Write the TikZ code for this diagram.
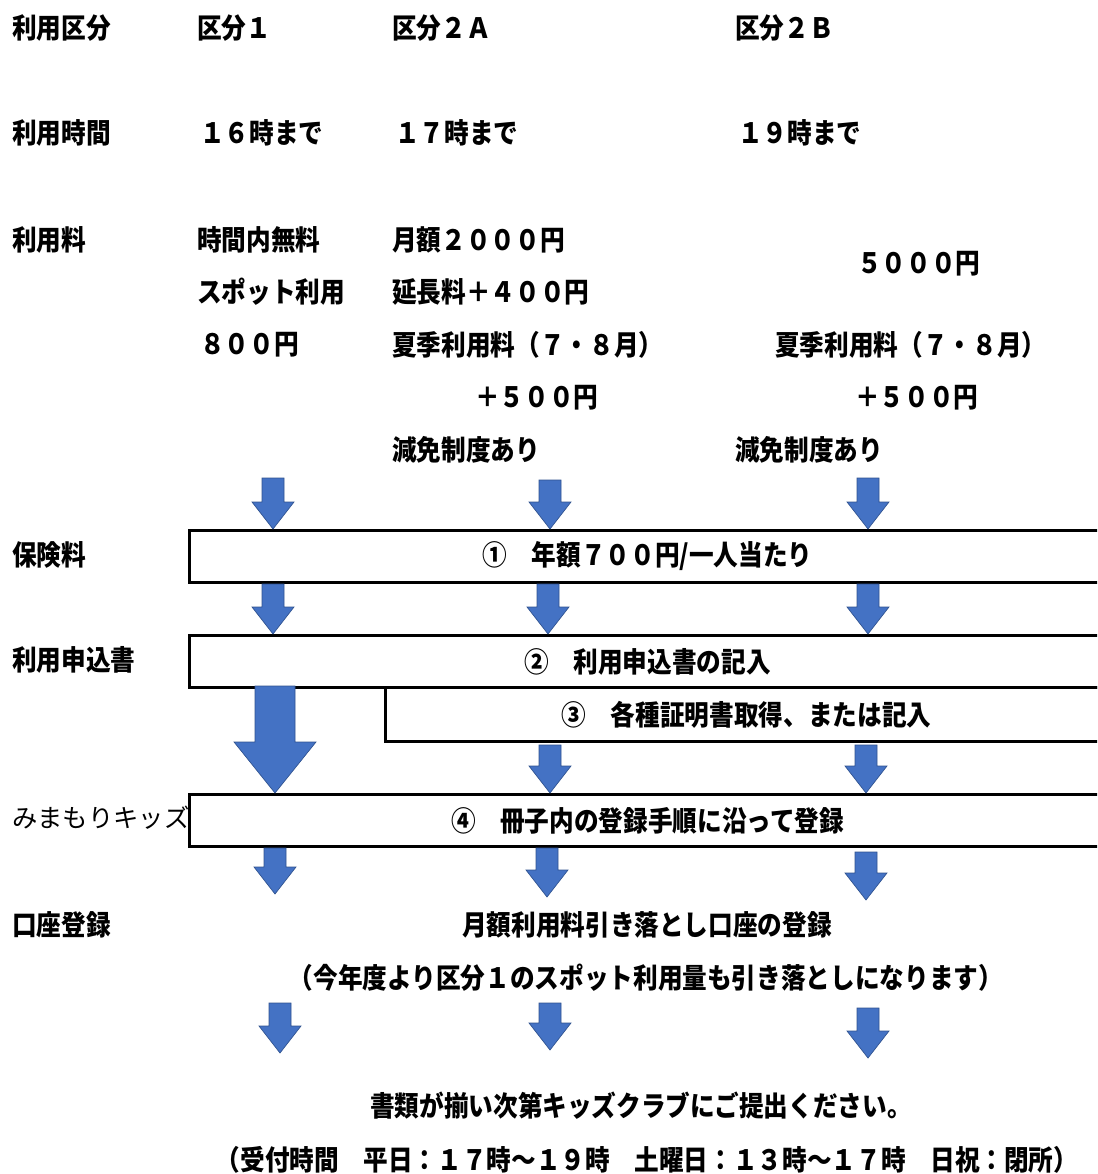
\documentclass[tikz,border=0pt]{standalone}
\usepackage{fontspec}
\setmainfont{Noto Sans CJK JP}
\newfontfamily\jpcond{Noto Sans CJK JP}[FakeStretch=0.88]
\definecolor{arrowblue}{HTML}{4472C4}
\definecolor{arrowedge}{HTML}{2F528F}
\newcommand{\jptext}{\jpcond\fontsize{21}{24}\selectfont\bfseries}
\tikzset{
  txt/.style={anchor=west, inner sep=0pt, font=\jptext},
  ctxt/.style={inner sep=0pt, font=\jptext},
  stepbox/.style={draw, line width=2.25pt, anchor=north west, inner sep=0pt, font=\jptext},
  blockarr/.style={fill=arrowblue, draw=arrowedge, line width=0.5pt},
}
% block arrow pointing down: x, top, tip
\newcommand{\downarr}[3]{\draw[blockarr] (#1-11,#2) -- (#1+11,#2) -- (#1+11,#3-27) -- (#1+21,#3-27) -- (#1,#3) -- (#1-21,#3-27) -- (#1-11,#3-27) -- cycle;}
\begin{document}
\begin{tikzpicture}[x=0.75pt, y=-0.75pt]
\useasboundingbox (0,0) rectangle (1097,1174);
\clip (0,0) rectangle (1097,1174);
% left column
\node[txt] (hkubun) at (12,28) {利用区分};
\node[txt] (hjikan) at (12,133) {利用時間};
\node[txt] (hryokin) at (12,240) {利用料};
\node[txt] (hhoken) at (12,555) {保険料};
\node[txt] (hmoushi) at (12,660) {利用申込書};
\node[txt, font=\fontsize{19}{22}\selectfont] (hkids) at (12,818) {みまもりキッズ};
\node[txt] (hkouza) at (12,925) {口座登録};
% category columns
\node[txt] (k1) at (197,28) {区分１};
\node[txt] (k2a) at (392,28) {区分２Ａ};
\node[txt] (k2b) at (735,28) {区分２Ｂ};
\node[txt] (t1) at (200,133) {１６時まで};
\node[txt] (t2a) at (395,133) {１７時まで};
\node[txt] (t2b) at (738,133) {１９時まで};
\node[txt] (f1a) at (197,240) {時間内無料};
\node[txt] (f1b) at (197,292) {スポット利用};
\node[txt] (f1c) at (200,345) {８００円};
\node[txt] (f2a) at (392,240) {月額２０００円};
\node[txt] (f2b) at (392,292) {延長料＋４００円};
\node[txt] (f2c) at (392,345) {夏季利用料（７・８月）};
\node[txt] (f2d) at (475,398) {＋５００円};
\node[txt] (f2e) at (392,450) {減免制度あり};
\node[txt] (f3a) at (857,264) {５０００円};
\node[txt] (f3c) at (775,345) {夏季利用料（７・８月）};
\node[txt] (f3d) at (855,398) {＋５００円};
\node[txt] (f3e) at (735,450) {減免制度あり};
% steps
\node[stepbox, minimum width=687pt, minimum height=39pt] (s1) at (188,529) {①　年額７００円/一人当たり};
\node[stepbox, minimum width=687pt, minimum height=39pt] (s2) at (188,634) {②　利用申込書の記入};
\node[stepbox, minimum width=541.5pt, minimum height=40.5pt] (s3) at (384,686) {③　各種証明書取得、または記入};
\node[stepbox, minimum width=687pt, minimum height=39pt] (s4) at (188,793) {④　冊子内の登録手順に沿って登録};
\node[ctxt] (kouza) at (647,925) {月額利用料引き落とし口座の登録};
\node[ctxt] (kouzanote) at (646,978) {（今年度より区分１のスポット利用量も引き落としになります）};
\node[ctxt] (teishutsu) at (641,1106) {書類が揃い次第キッズクラブにご提出ください。};
\node[ctxt] (uketsuke) at (647,1160) {（受付時間　平日：１７時～１９時　土曜日：１３時～１７時　日祝：閉所）};
% arrows
\downarr{273}{478}{529}
\downarr{550}{480}{529}
\downarr{868}{478}{529}
\downarr{273}{584}{634}
\downarr{548}{584}{634}
\downarr{868}{584}{634}
\draw[blockarr] (255,686) -- (295,686) -- (295,742) -- (316,742) -- (275,793) -- (234,742) -- (255,742) -- cycle;
\downarr{550}{745}{793}
\downarr{866}{745}{793}
\downarr{275}{848}{894}
\downarr{547}{848}{897}
\downarr{866}{852}{900}
\downarr{280}{1003}{1053}
\downarr{550}{1003}{1050}
\downarr{868}{1008}{1058}
\end{tikzpicture}
\end{document}
